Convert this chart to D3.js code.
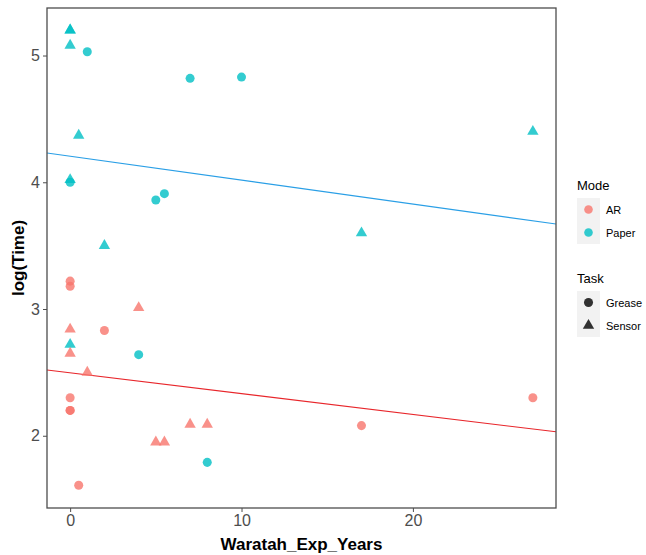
<!DOCTYPE html>
<html>
<head>
<meta charset="utf-8">
<script src="https://cdn.jsdelivr.net/npm/d3@7"></script>
<style>
  body { margin: 0; background: #fff; }
  text { font-family: "Liberation Sans", Arial, sans-serif; }
</style>
</head>
<body>
<div id="chart"></div>
<script>
// points
const expYears = [0, 0, 0, 1, 7, 10, 0.5, 0, 0, 5.5, 5, 2, 0, 4, 17, 27, 8,
                  0, 0, 4, 0, 2, 0, 1, 0, 0, 0, 7, 8, 5, 5.5, 0.5, 17, 27]
const logTime = [5.2, 5.2, 5.08, 5.03, 4.82, 4.83, 4.37, 4.02, 4.0, 3.91, 3.86, 3.5, 2.72, 2.64, 3.6, 4.4, 1.79,
                 3.22, 3.18, 3.01, 2.84, 2.83, 2.65, 2.5, 2.3, 2.2, 2.2, 2.09, 2.09, 1.95, 1.95, 1.61, 2.08, 2.3]
const mode = ["Paper","Paper","Paper","Paper","Paper","Paper","Paper","Paper","Paper","Paper","Paper","Paper","Paper","Paper","Paper","Paper","Paper",
              "AR","AR","AR","AR","AR","AR","AR","AR","AR","AR","AR","AR","AR","AR","AR","AR","AR"]
const task = ["Sensor","Sensor","Sensor","Grease","Grease","Grease","Sensor","Sensor","Grease","Grease","Grease","Sensor","Sensor","Grease","Sensor","Sensor","Grease",
              "Grease","Grease","Sensor","Sensor","Grease","Sensor","Sensor","Grease","Grease","Grease","Sensor","Sensor","Sensor","Sensor","Grease","Grease","Grease"]

// fitted lines: [intercept, slope]
const lineModes = ["Paper", "AR"]
const lineCoef = [[4.206, -0.0189], [2.497, -0.01643]]
const lineColors = ["#2a9fe6", "#e8262b"]

const modeNames = ["AR", "Paper"]
const modeColors = ["#F8766D", "#00BFC4"]
const taskNames = ["Grease", "Sensor"]
const xTicks = [0, 10, 20]
const yTicks = [2, 3, 4, 5]

const W = 646, H = 555
const panel = {left: 47, top: 8, right: 556, bottom: 508}

const svg = d3.select("#chart").append("svg")
    .attr("width", W)
    .attr("height", H)

const x = d3.scaleLinear().domain([-1.35, 28.35]).range([panel.left, panel.right])
const y = d3.scaleLinear().domain([1.43, 5.375]).range([panel.bottom, panel.top])
const color = d3.scaleOrdinal().domain(modeNames).range(modeColors)
const shape = d3.scaleOrdinal().domain(taskNames).range([d3.symbolCircle, d3.symbolTriangle])
const shapeSize = {Grease: 64, Sensor: 56}

// axes
let xAxis = svg.append("g")
    .attr("transform", "translate(0," + panel.bottom + ")")
    .call(d3.axisBottom(x).tickValues(xTicks).tickFormat(d3.format("d")).tickSize(4).tickPadding(3))
let yAxis = svg.append("g")
    .attr("transform", "translate(" + panel.left + ",0)")
    .call(d3.axisLeft(y).tickValues(yTicks).tickFormat(d3.format("d")).tickSize(4).tickPadding(3))
;[xAxis, yAxis].forEach(a => {
    a.select(".domain").remove()
    a.selectAll("line").attr("stroke", "#4d4d4d").attr("stroke-width", 1)
    a.selectAll("text").attr("fill", "#4d4d4d").style("font-size", "16px")
})

// clip for lines
svg.append("clipPath").attr("id", "clip")
    .append("rect")
    .attr("x", panel.left).attr("y", panel.top)
    .attr("width", panel.right - panel.left)
    .attr("height", panel.bottom - panel.top)

// regression lines
let lines = svg.append("g").attr("clip-path", "url(#clip)")
lineModes.forEach((m, i) => {
    let c = lineCoef[i]
    let xs = x.domain()
    lines.append("line")
        .attr("x1", x(xs[0])).attr("y1", y(c[0] + c[1] * xs[0]))
        .attr("x2", x(xs[1])).attr("y2", y(c[0] + c[1] * xs[1]))
        .attr("stroke", lineColors[i])
        .attr("stroke-width", 1.1)
})

// points
svg.append("g").selectAll("path")
    .data(expYears.map((d, i) => ({x: d, y: logTime[i], m: mode[i], t: task[i]})))
    .join("path")
    .attr("transform", d => "translate(" + x(d.x) + "," + y(d.y) + ")")
    .attr("d", d => d3.symbol().type(shape(d.t)).size(shapeSize[d.t])())
    .attr("fill", d => color(d.m))
    .attr("fill-opacity", 0.8)

// panel border
svg.append("rect")
    .attr("x", panel.left).attr("y", panel.top)
    .attr("width", panel.right - panel.left)
    .attr("height", panel.bottom - panel.top)
    .attr("fill", "none")
    .attr("stroke", "#4d4d4d")
    .attr("stroke-width", 1.3)

// axis titles
svg.append("text")
    .attr("x", (panel.left + panel.right) / 2)
    .attr("y", 550)
    .attr("text-anchor", "middle")
    .style("font-size", "17px")
    .style("font-weight", "bold")
    .text("Waratah_Exp_Years")

svg.append("text")
    .attr("transform", "translate(24," + (panel.top + panel.bottom) / 2 + ") rotate(-90)")
    .attr("text-anchor", "middle")
    .style("font-size", "17px")
    .style("font-weight", "bold")
    .text("log(Time)")

// legends
function legend(top, title, names, draw) {
    let g = svg.append("g")
    g.append("text")
        .attr("x", 577).attr("y", top)
        .style("font-size", "13px")
        .text(title)
    g.append("rect")
        .attr("x", 577).attr("y", top + 8)
        .attr("width", 23).attr("height", 46)
        .attr("fill", "#f2f2f2")
    names.forEach((n, i) => {
        let cy = top + 8 + 11.5 + i * 23
        draw(g, n, 588.5, cy)
        g.append("text")
            .attr("x", 606).attr("y", cy + 4)
            .style("font-size", "11px")
            .text(n)
    })
}

legend(190, "Mode", modeNames, (g, n, cx, cy) => {
    g.append("circle").attr("cx", cx).attr("cy", cy).attr("r", 4.3)
        .attr("fill", color(n)).attr("fill-opacity", 0.8)
})
legend(283, "Task", taskNames, (g, n, cx, cy) => {
    g.append("path")
        .attr("transform", "translate(" + cx + "," + cy + ")")
        .attr("d", d3.symbol().type(shape(n)).size(shapeSize[n])())
        .attr("fill", "#000").attr("fill-opacity", 0.8)
})
</script>
</body>
</html>
